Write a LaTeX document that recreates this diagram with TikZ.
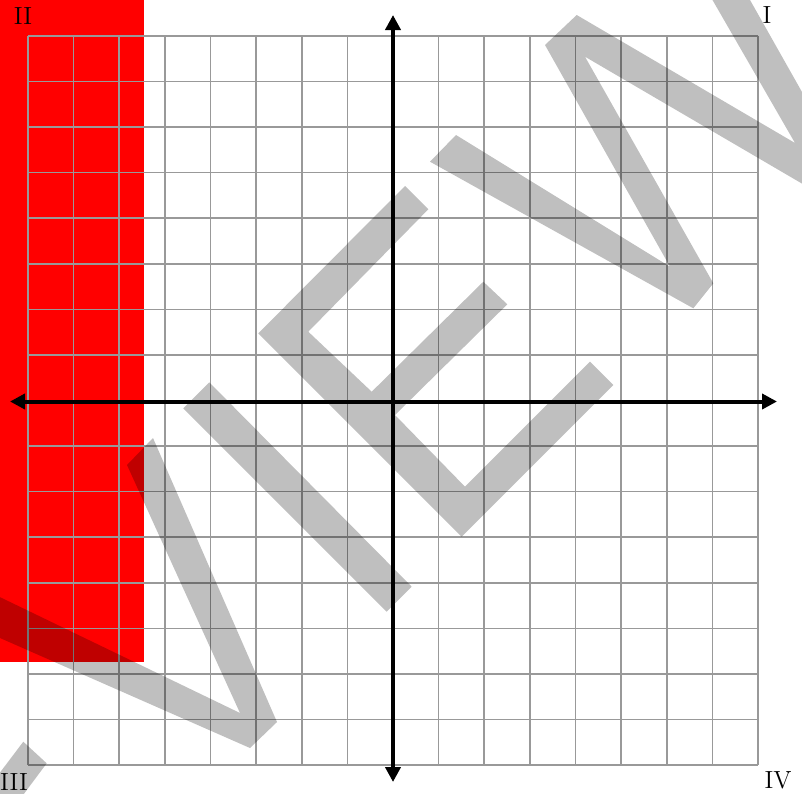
\documentclass[tikz,border=0pt]{standalone}
\usetikzlibrary{arrows.meta}
\definecolor{gridgray}{HTML}{999999}
\definecolor{pured}{HTML}{FF0000}
\tikzset{
  gridline/.style={draw=gridgray,line width=0.8pt},
  axisline/.style={draw=black,line width=2pt,{Triangle[length=7.5pt,width=7.5pt]}-{Triangle[length=7.5pt,width=7.5pt]}},
  quadlabel/.style={font=\fontsize{12.4}{14}\selectfont,inner sep=0pt,anchor=center},
  wmark/.style={fill=black,fill opacity=0.25}
}
\begin{document}
\begin{tikzpicture}[x=0.5pt,y=-0.5pt]
\useasboundingbox (0,0) rectangle (802,793);
% red block
\fill[pured] (0,0) rectangle (144,662);
% grid
\foreach \i in {0,...,16}{
  \draw[gridline] ({28+45.625*\i},36) -- ({28+45.625*\i},765);
  \draw[gridline] (28,{36+45.5625*\i}) -- (758,{36+45.5625*\i});
}
% axes
\coordinate (ytop) at (393,15);
\coordinate (ybot) at (393,782);
\coordinate (xleft) at (10,401.5);
\coordinate (xright) at (777,401.5);
\draw[axisline] (ybot) -- (ytop);
\draw[axisline] (xleft) -- (xright);
% quadrant labels
\node[quadlabel] (qII) at (23,16) {II};
\node[quadlabel] (qI) at (767,15) {I};
\node[quadlabel] (qIII) at (14,782) {III};
\node[quadlabel] (qIV) at (778,780) {IV};
% watermark
\begin{scope}
\clip (0,0) rectangle (802,793);
\fill[wmark] (153,438) -- (277,722) -- (250,748) -- (-50,616) -- (-50,573) -- (240,713) -- (127,465) -- cycle;
\fill[wmark] (23.3,741.7) -- (46.7,763.3) -- (6.7,817) -- (-17,795) -- cycle;
\fill[wmark] (183.3,408.3) -- (209.3,382.3) -- (411.7,586.7) -- (386.7,611.7) -- cycle;
\fill[wmark] (405,186) -- (428.3,209.3) -- (308.3,331.7) -- (371.7,391.7) -- (483.3,281.7) -- (507.3,304.3) -- (395,415) -- (465,486.7) -- (590,361.7) -- (613.3,385) -- (461.7,536.7) -- (258.3,333.3) -- cycle;
\fill[wmark] (456,135) -- (430,161.7) -- (693.3,308.3) -- (713.3,283.3) -- (585,56.7) -- (879.3,228.8) -- (727.4,-40) -- (689.4,-40) -- (795,143) -- (576.7,15) -- (545,45) -- (670,266.7) -- cycle;
\end{scope}
\end{tikzpicture}
\end{document}
